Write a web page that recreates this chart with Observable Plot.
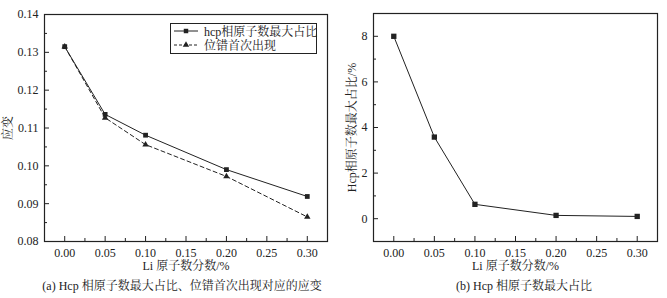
<!DOCTYPE html>
<html>
<head>
<meta charset="utf-8">
<script src="https://cdn.jsdelivr.net/npm/d3@7"></script>
<script src="https://cdn.jsdelivr.net/npm/@observablehq/plot@0.6"></script>
<style>
  html, body { margin: 0; padding: 0; background: #fff; }
  #wrap { position: relative; width: 667px; height: 298px; overflow: hidden; background: #fff;
    font-family: "Liberation Serif", "Noto Serif CJK SC", "Noto Sans CJK SC", serif; color: #222; }
  .panel { position: absolute; top: 0; }
  .caption { position: absolute; font-size: 12px; white-space: nowrap; transform: translate(-50%, -50%); }
  #legend { position: absolute; left: 170px; top: 23px; width: 145px; height: 29px; border: 1px solid #222; background: #fff; font-size: 12px; }
  #legend .row { position: absolute; left: 2px; height: 14px; display: flex; align-items: center; white-space: nowrap; }
  #legend svg { margin-right: 5px; }
</style>
</head>
<body>
<div id="wrap">
  <div id="left" class="panel" style="left:0px"></div>
  <div id="right" class="panel" style="left:334px"></div>
  <div id="legend"></div>
  <div class="caption" id="capA" style="left:182px; top:285px"></div>
  <div class="caption" id="capB" style="left:524px; top:285px"></div>
</div>
<script>
// ---- data ----
const liFraction = [0.00, 0.05, 0.10, 0.20, 0.30];
const strainHcpMax = [0.1315, 0.1136, 0.1081, 0.0990, 0.0919];
const strainDislocation = [0.1315, 0.1127, 0.1056, 0.0972, 0.0865];
const hcpMaxPercent = [8.0, 3.58, 0.63, 0.145, 0.10];

const seriesNames = ["hcp相原子数最大占比", "位错首次出现"];
const xTicks = [0, 0.05, 0.10, 0.15, 0.20, 0.25, 0.30];
const xMinorTicks = [0.025, 0.075, 0.125, 0.175, 0.225, 0.275];
const yTicksA = [0.08, 0.09, 0.10, 0.11, 0.12, 0.13, 0.14];
const yMinorA = [0.085, 0.095, 0.105, 0.115, 0.125, 0.135];
const yTicksB = [0, 2, 4, 6, 8];
const yMinorB = [1, 3, 5, 7];

const xLabel = "Li 原子数分数/%";
const yLabelA = "应变";
const yLabelB = "Hcp相原子数最大占比/%";
const captionA = "(a) Hcp 相原子数最大占比、位错首次出现对应的应变";
const captionB = "(b) Hcp 相原子数最大占比";

const ink = "#222";
const fontFamily = '"Liberation Serif", "Noto Serif CJK SC", "Noto Sans CJK SC", serif';

const hcpData = liFraction.map((x, i) => ({x, y: strainHcpMax[i]}));
const disData = liFraction.map((x, i) => ({x, y: strainDislocation[i]}));
const pctData = liFraction.map((x, i) => ({x, y: hcpMaxPercent[i]}));

function axes(yTicks, yMinor, yFmt, yLabel, yLabelOffset) {
  return [
    Plot.axisX({ticks: xTicks, tickSize: -5, text: null, label: null, strokeWidth: 1}),
    Plot.axisX({ticks: xMinorTicks, tickSize: -3, text: null, label: null, strokeWidth: 1}),
    Plot.axisX({ticks: xTicks, tickSize: 0, tickPadding: 7, tickFormat: ".2f",
      label: xLabel, labelAnchor: "center", labelArrow: "none", labelOffset: 28}),
    Plot.axisY({ticks: yTicks, tickSize: -5, text: null, label: null, strokeWidth: 1}),
    Plot.axisY({ticks: yMinor, tickSize: -3, text: null, label: null, strokeWidth: 1}),
    Plot.axisY({ticks: yTicks, tickSize: 0, tickPadding: 6, tickFormat: yFmt,
      label: yLabel, labelAnchor: "center", labelArrow: "none", labelOffset: yLabelOffset})
  ];
}

const style = {fontFamily, fontSize: "12px", color: ink, background: "transparent"};

const plotA = Plot.plot({
  width: 333, height: 278,
  marginLeft: 44, marginRight: 6, marginTop: 14, marginBottom: 37,
  style,
  x: {domain: [-0.025, 0.325]},
  y: {domain: [0.08, 0.14]},
  marks: [
    Plot.frame({stroke: ink, strokeWidth: 1.2}),
    ...axes(yTicksA, yMinorA, ".2f", yLabelA, 41),
    Plot.line(disData, {x: "x", y: "y", stroke: ink, strokeWidth: 1, strokeDasharray: "4,3"}),
    Plot.line(hcpData, {x: "x", y: "y", stroke: ink, strokeWidth: 1}),
    Plot.dot(hcpData, {x: "x", y: "y", symbol: "square", r: 2.7, fill: ink}),
    Plot.dot(disData, {x: "x", y: "y", symbol: "triangle", r: 2.4, fill: ink})
  ]
});
document.getElementById("left").appendChild(plotA);

const plotB = Plot.plot({
  width: 333, height: 278,
  marginLeft: 39, marginRight: 10, marginTop: 13, marginBottom: 37,
  style,
  x: {domain: [-0.025, 0.325]},
  y: {domain: [-1, 9]},
  marks: [
    Plot.frame({stroke: ink, strokeWidth: 1.2}),
    ...axes(yTicksB, yMinorB, "d", yLabelB, 26),
    Plot.line(pctData, {x: "x", y: "y", stroke: ink, strokeWidth: 1}),
    Plot.dot(pctData, {x: "x", y: "y", symbol: "square", r: 3, fill: ink})
  ]
});
document.getElementById("right").appendChild(plotB);

document.getElementById("capA").textContent = captionA;
document.getElementById("capB").textContent = captionB;

// legend
const legend = document.getElementById("legend");
const legendItems = [
  {name: seriesNames[0], dash: null, marker: "square"},
  {name: seriesNames[1], dash: "3,2", marker: "triangle"}
];
legendItems.forEach((item, i) => {
  const row = document.createElement("div");
  row.className = "row";
  row.style.top = (i === 0 ? 0 : 14) + "px";
  const ns = "http://www.w3.org/2000/svg";
  const svg = document.createElementNS(ns, "svg");
  svg.setAttribute("width", 26); svg.setAttribute("height", 14);
  const line = document.createElementNS(ns, "line");
  line.setAttribute("x1", 1); line.setAttribute("x2", 25);
  line.setAttribute("y1", 7); line.setAttribute("y2", 7);
  line.setAttribute("stroke", ink);
  if (item.dash) line.setAttribute("stroke-dasharray", item.dash);
  svg.appendChild(line);
  const m = document.createElementNS(ns, "path");
  m.setAttribute("d", d3.symbol(item.marker === "square" ? d3.symbolSquare : d3.symbolTriangle, item.marker === "square" ? 20 : 18)());
  m.setAttribute("transform", "translate(13,7)");
  m.setAttribute("fill", ink);
  svg.appendChild(m);
  row.appendChild(svg);
  const t = document.createElement("span");
  t.textContent = item.name;
  row.appendChild(t);
  legend.appendChild(row);
});
</script>
</body>
</html>
